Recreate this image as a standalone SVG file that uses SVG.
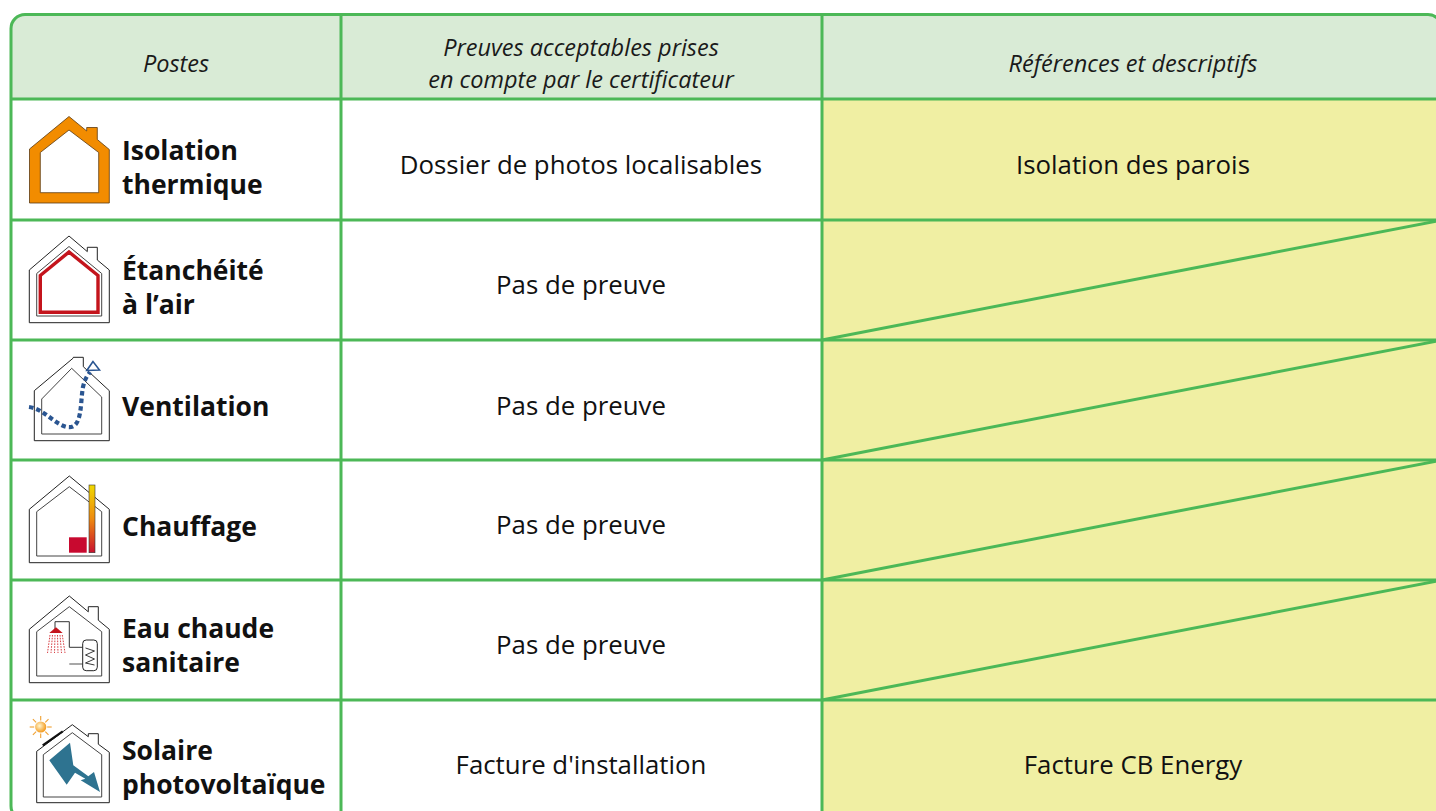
<svg xmlns="http://www.w3.org/2000/svg" width="1436" height="811" viewBox="0 0 1436 811">
<style>
.grid{stroke:#4cb857;stroke-width:3;fill:none}
.hd{font-family:"Open Sans","Noto Sans",sans-serif;font-style:italic;font-size:23.5px;fill:#1a1a1a;text-anchor:middle}
.cell{font-family:"Open Sans","Noto Sans",sans-serif;font-size:25.8px;fill:#111;text-anchor:middle}
.lab{font-family:"Open Sans","Noto Sans",sans-serif;font-weight:bold;font-size:26.5px;fill:#111}
.ho{fill:#fff;stroke:#222;stroke-width:1}
.hi{fill:none;stroke:#444;stroke-width:1}
</style>
<defs>
<clipPath id="tbl"><rect x="11" y="14.5" width="1431" height="805.5" rx="14"/></clipPath>
<linearGradient id="heat" x1="0" y1="0" x2="0" y2="1">
<stop offset="0" stop-color="#f0d800"/><stop offset="0.5" stop-color="#ee8a10"/><stop offset="1" stop-color="#c8102e"/>
</linearGradient>
<radialGradient id="sun" cx="0.4" cy="0.4" r="0.6">
<stop offset="0" stop-color="#fff6d0"/><stop offset="1" stop-color="#f39a1e"/>
</radialGradient>
</defs>
<rect width="1436" height="811" fill="#fff"/>
<g id="fills" clip-path="url(#tbl)">
<rect x="11" y="14.5" width="1431" height="84.5" fill="#d9ebd6"/>
<rect x="822" y="99" width="620" height="721" fill="#f0efa3"/>
</g>
<g id="grid" class="grid">
<rect x="11" y="14.5" width="1431" height="805.5" rx="14"/>
<line x1="341" y1="14.5" x2="341" y2="820"/>
<line x1="822" y1="14.5" x2="822" y2="820"/>
<line x1="11" y1="99" x2="1442" y2="99"/>
<line x1="11" y1="220" x2="1442" y2="220"/>
<line x1="11" y1="340" x2="1442" y2="340"/>
<line x1="11" y1="460" x2="1442" y2="460"/>
<line x1="11" y1="580" x2="1442" y2="580"/>
<line x1="11" y1="700" x2="1442" y2="700"/>
<line x1="822" y1="340" x2="1442" y2="220"/>
<line x1="822" y1="460" x2="1442" y2="340"/>
<line x1="822" y1="580" x2="1442" y2="460"/>
<line x1="822" y1="700" x2="1442" y2="580"/>
</g>
<g id="header">
<text class="hd" x="176" y="72">Postes</text>
<text class="hd" x="581" y="56">Preuves acceptables prises</text>
<text class="hd" x="581" y="88">en compte par le certificateur</text>
<text class="hd" x="1133" y="72">Références et descriptifs</text>
</g>
<g id="row-isolation">
<path fill="#f28c00" stroke="#5a3a12" stroke-width="0.8" fill-rule="evenodd" d="M29.5,203 L29.5,149 L69,116.5 L86.7,131 L86.7,127.5 L97.3,127.5 L97.3,139.5 L109.3,149.5 L109.3,203 Z M40.3,192.7 L98.7,192.7 L98.7,152.5 L69,130 L40.3,152.5 Z"/>
<text class="lab" x="122" y="160">Isolation</text>
<text class="lab" x="122" y="194">thermique</text>
<text class="cell" x="581" y="174">Dossier de photos localisables</text>
<text class="cell" x="1133" y="174">Isolation des parois</text>
</g>
<g id="row-etancheite">
<path class="ho" d="M29.3,322.7 L29.3,270 L69,236 L87.3,251.6 L87.3,247.3 L97.3,247.3 L97.3,260 L109.3,270 L109.3,322.7 Z"/>
<path class="hi" d="M36.7,316 L36.7,273.5 L69,246.5 L101.7,273.5 L101.7,316 Z"/>
<path fill="none" stroke="#c4141c" stroke-width="3.4" d="M40.3,312.3 L40.3,275.5 L69,252 L98,275.5 L98,312.3 Z"/>
<text class="lab" x="122" y="280">Étanchéité</text>
<text class="lab" x="122" y="314">à l’air</text>
<text class="cell" x="581" y="294">Pas de preuve</text>
</g>
<g id="row-ventilation">
<path class="ho" d="M34.3,440.7 L34.3,390.7 L73.3,358 L73.3,357.3 L83.3,357.3 L83.3,366.7 L109.3,390.7 L109.3,440.7 Z"/>
<path class="hi" d="M41.7,434 L41.7,399 L71.7,368.3 L101.7,397 L101.7,434 Z"/>
<path fill="none" stroke="#2a5591" stroke-width="4.2" stroke-dasharray="4.5 3" d="M29,407 C44,409 54,424 67,427 C83,430 80,402 83,387 C85,378 88,375 90,372"/>
<path fill="#fff" stroke="#2a5591" stroke-width="1.6" d="M93,361.5 L86.8,370.5 L99.5,370 Z"/>
<text class="lab" x="122" y="416">Ventilation</text>
<text class="cell" x="581" y="415">Pas de preuve</text>
</g>
<g id="row-chauffage">
<path class="ho" d="M29.3,562.7 L29.3,509.3 L69.3,476 L109.3,509.3 L109.3,562.7 Z"/>
<path class="hi" d="M36.7,556 L36.7,511.7 L69.3,486.7 L101.7,511.7 L101.7,556 Z"/>
<rect x="89" y="485" width="6" height="67.7" fill="url(#heat)" stroke="#333" stroke-width="0.6"/>
<rect x="69" y="537.3" width="17.7" height="15.4" fill="#c8092f"/>
<text class="lab" x="122" y="536">Chauffage</text>
<text class="cell" x="581" y="534">Pas de preuve</text>
</g>
<g id="row-eau-chaude">
<path class="ho" d="M29.3,682.7 L29.3,629.3 L69.3,596 L88.3,611.8 L88.3,606.7 L98.3,606.7 L98.3,620.2 L109.3,629.3 L109.3,682.7 Z"/>
<path class="hi" d="M36.7,676 L36.7,631.7 L69.3,606.7 L101.7,631.7 L101.7,676 Z"/>
<polyline fill="none" stroke="#333" stroke-width="1" points="55,629.5 55,621.7 69.3,621.7 69.3,647.3 82.7,647.3"/>
<line x1="69.3" y1="664" x2="82.7" y2="664" stroke="#777" stroke-width="1.3"/>
<rect x="82.7" y="640" width="14.6" height="30.7" rx="3.5" fill="#fff" stroke="#222" stroke-width="1"/>
<polyline fill="none" stroke="#222" stroke-width="0.9" points="85.5,648 94.5,651 85.5,655 94.5,659 85.5,663 94.5,665"/>
<path fill="#c4141c" d="M49.3,633 L56,627.3 L62.7,633 Z"/>
<g stroke="#d42a30" stroke-width="0.9" stroke-dasharray="1.6 1.2">
<line x1="50" y1="635" x2="47.5" y2="653"/>
<line x1="52.5" y1="635" x2="51" y2="653"/>
<line x1="55" y1="635" x2="54.5" y2="653"/>
<line x1="57.5" y1="635" x2="58" y2="653"/>
<line x1="60" y1="635" x2="61.5" y2="653"/>
<line x1="62.3" y1="635" x2="65" y2="653"/>
</g>
<text class="lab" x="122" y="638">Eau chaude</text>
<text class="lab" x="122" y="672">sanitaire</text>
<text class="cell" x="581" y="654">Pas de preuve</text>
</g>
<g id="row-solaire">
<path class="ho" d="M36.7,802.7 L36.7,751.3 L72.3,724.7 L88.3,736.7 L88.3,733.7 L98.3,733.7 L98.3,744.2 L109.3,752.3 L109.3,802.7 Z"/>
<path class="hi" d="M43.3,797 L43.3,754.7 L72.3,732.7 L101.7,754.7 L101.7,797 Z"/>
<line x1="42.7" y1="745.3" x2="62.7" y2="731.3" stroke="#111" stroke-width="2.2"/>
<g stroke="#f0a030" stroke-width="1.1">
<line x1="40.7" y1="716" x2="40.7" y2="720.5"/>
<line x1="40.7" y1="733.5" x2="40.7" y2="738"/>
<line x1="29.7" y1="727" x2="34.2" y2="727"/>
<line x1="47.2" y1="727" x2="51.7" y2="727"/>
<line x1="32.9" y1="719.2" x2="36.1" y2="722.4"/>
<line x1="45.3" y1="731.6" x2="48.5" y2="734.8"/>
<line x1="32.9" y1="734.8" x2="36.1" y2="731.6"/>
<line x1="45.3" y1="722.4" x2="48.5" y2="719.2"/>
</g>
<circle cx="40.7" cy="727" r="5.6" fill="url(#sun)"/>
<path fill="#2e7390" d="M49.3,760.3 L70,742.7 L73.3,765.3 L88.3,776.3 L94,772 L100,792 L80.7,780.3 L85.3,778.7 L75,772.7 L66.7,784.7 Z"/>
<text class="lab" x="122" y="760">Solaire</text>
<text class="lab" x="122" y="794">photovoltaïque</text>
<text class="cell" x="581" y="774">Facture d'installation</text>
<text class="cell" x="1133" y="774">Facture CB Energy</text>
</g>
</svg>
